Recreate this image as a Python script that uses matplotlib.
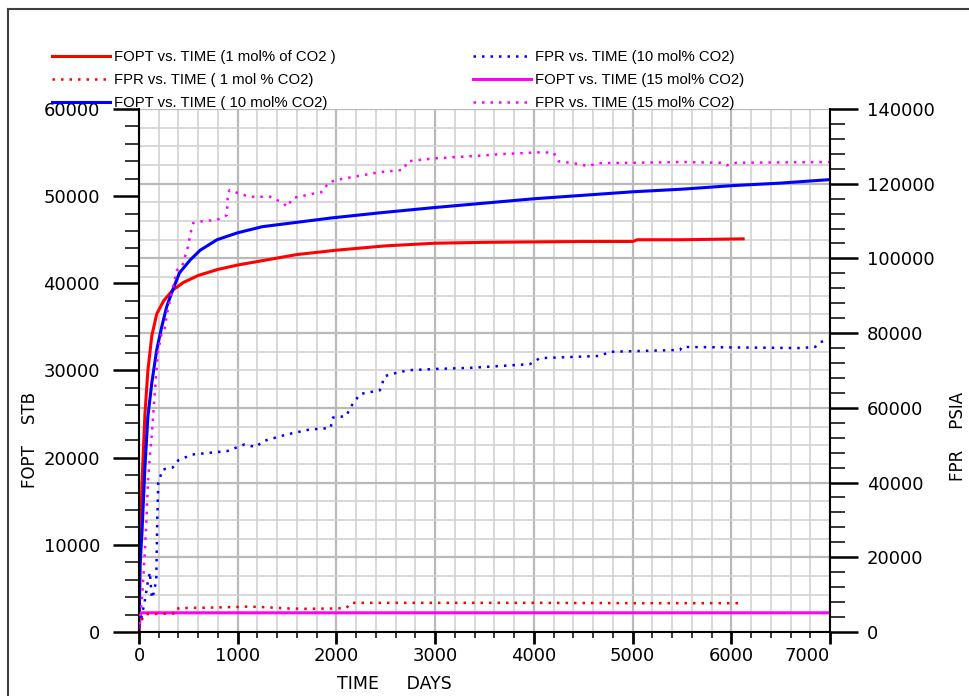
import matplotlib
matplotlib.use("Agg")
import matplotlib.pyplot as plt
from matplotlib.lines import Line2D
from matplotlib.ticker import MultipleLocator

# ---- data (TIME in days) ----

# FOPT (STB), left axis
t_fopt_1 = [0, 5, 10, 20, 30, 45, 60, 90, 130, 180, 250, 340, 450, 600, 800, 1000,
            1300, 1600, 2000, 2500, 3000, 3500, 4000, 4500, 5000, 5050, 5500, 6120]
fopt_1 = [0, 4000, 9000, 13500, 17000, 21000, 25000, 30000, 34000, 36500, 38000, 39200,
          40100, 40900, 41600, 42100, 42700, 43300, 43800, 44300, 44600, 44700, 44750,
          44800, 44800, 45000, 45000, 45100]

t_fopt_10 = [0, 10, 30, 60, 90, 130, 180, 230, 280, 340, 410, 520, 620, 790, 1000, 1250,
             1600, 1950, 2450, 3000, 3500, 4000, 4500, 5000, 5500, 6000, 6500, 7000]
fopt_10 = [0, 7500, 11400, 18900, 24700, 28600, 32400, 35000, 37300, 39200, 41200, 42700,
           43800, 45000, 45800, 46500, 47000, 47500, 48100, 48700, 49200, 49700, 50100,
           50500, 50800, 51200, 51500, 51900]

t_fopt_15 = [0, 15, 7000]
fopt_15 = [300, 2200, 2200]

# FPR (PSIA), right axis
t_fpr_1 = [0, 20, 40, 60, 100, 300, 380, 400, 700, 1000, 1100, 1300, 1500, 1700, 2000,
           2100, 2150, 3000, 4000, 5000, 6100]
fpr_1 = [1000, 2500, 4000, 4800, 4800, 4900, 5000, 6400, 6500, 6700, 6800, 6600, 6300,
         6200, 6300, 6400, 7800, 7800, 7800, 7700, 7700]

t_fpr_10 = [0, 30, 60, 90, 110, 130, 150, 175, 185, 195, 240, 340, 400, 540, 690, 890,
            1070, 1180, 1260, 1500, 1730, 1940, 1965, 2100, 2140, 2240, 2440, 2490, 2640,
            2750, 3000, 3350, 3660, 3960, 4060, 4670, 4770, 5480, 5500, 6700, 6850, 6900,
            7000]
fpr_10 = [1500, 4500, 8500, 13500, 16000, 9000, 10500, 14000, 30000, 40000, 43500, 44000,
          46000, 47500, 47900, 48400, 50200, 49500, 51100, 52900, 54200, 54600, 57400,
          57800, 60100, 63700, 64700, 68500, 69600, 70100, 70400, 70700, 71200, 71700,
          73300, 73900, 75000, 75500, 76300, 76000, 76300, 77600, 78200]

t_fpr_15 = [0, 15, 30, 45, 60, 75, 90, 110, 130, 160, 190, 230, 260, 285, 315, 345, 385,
            435, 465, 495, 535, 550, 650, 790, 890, 900, 920, 1000, 1120, 1330, 1460,
            1500, 1560, 1800, 1860, 1915, 2000, 2270, 2440, 2600, 2680, 2720, 3000, 3450,
            3650, 4060, 4200, 4250, 4420, 4550, 4650, 5000, 5500, 5900, 5950, 6050, 6500,
            7000]
fpr_15 = [2000, 5000, 9000, 15000, 22000, 30000, 40000, 47000, 53000, 64000, 74700, 80000,
          81000, 85400, 88900, 92400, 96900, 97700, 100400, 103000, 108400, 109500,
          110000, 110300, 111600, 117500, 118300, 117500, 116500, 116500, 114800, 113800,
          116200, 117500, 117800, 120200, 121000, 122300, 123100, 123500, 123700, 126000,
          126800, 127500, 127900, 128400, 128300, 126000, 125400, 124700, 125500, 125600,
          125800, 125600, 124900, 125600, 125700, 125800]

x_ticks = [0, 1000, 2000, 3000, 4000, 5000, 6000, 7000]

RED = "#ff0000"
BLUE = "#0000ff"
MAGENTA = "#ff00ff"
DOT = (0, (1, 2.4))

fig = plt.figure(figsize=(9.7, 6.96), dpi=100)
ax = fig.add_axes([0.1433, 0.0920, 0.7124, 0.7514])
ax2 = ax.twinx()

# grid: every 200 days, and every 5000 psia of the right scale
for xv in range(0, 7001, 200):
    major = xv % 1000 == 0
    ax.axvline(xv, color="#b9b9b9" if major else "#d2d2d2", lw=1.6 if major else 1.2, zorder=0)
for pv in range(0, 140001, 5000):
    major = pv % 20000 == 0
    ax.axhline(pv * 60000 / 140000, color="#b9b9b9" if major else "#d2d2d2",
               lw=1.6 if major else 1.2, zorder=0)

l1, = ax.plot(t_fopt_1, fopt_1, color=RED, lw=2.2, label="FOPT vs. TIME (1 mol% of CO2 )")
l3, = ax.plot(t_fopt_10, fopt_10, color=BLUE, lw=2.2, label="FOPT vs. TIME ( 10 mol% CO2)")
l5, = ax.plot(t_fopt_15, fopt_15, color=MAGENTA, lw=2.2, label="FOPT vs. TIME (15 mol% CO2)")
l2, = ax2.plot(t_fpr_1, fpr_1, color=RED, lw=1.8, ls=DOT, label="FPR vs. TIME ( 1 mol % CO2)")
l4, = ax2.plot(t_fpr_10, fpr_10, color=BLUE, lw=1.8, ls=DOT, label="FPR vs. TIME (10 mol% CO2)")
l6, = ax2.plot(t_fpr_15, fpr_15, color=MAGENTA, lw=1.8, ls=DOT, label="FPR vs. TIME (15 mol% CO2)")

ax.set_xlim(0, 7000)
ax.set_ylim(0, 60000)
ax2.set_ylim(0, 140000)

ax.set_xticks(x_ticks)
ax.xaxis.set_minor_locator(MultipleLocator(200))
ax.yaxis.set_major_locator(MultipleLocator(10000))
ax.yaxis.set_minor_locator(MultipleLocator(2000))
ax2.yaxis.set_major_locator(MultipleLocator(20000))
ax2.yaxis.set_minor_locator(MultipleLocator(4000))

ax.tick_params(axis="y", which="major", length=18.7, width=1.8, pad=9.4, labelsize=13)
ax.tick_params(axis="y", which="minor", length=10, width=1.1)
ax2.tick_params(axis="y", which="major", length=20, width=1.8, pad=6.5, labelsize=13)
ax2.tick_params(axis="y", which="minor", length=11, width=1.1)
ax.tick_params(axis="x", which="major", length=8.6, width=2.0, pad=2, labelsize=13)
ax.tick_params(axis="x", which="minor", length=4.3, width=1.1)

ax.get_xticklabels()[-1].set_horizontalalignment("right")

for a in (ax, ax2):
    a.spines["top"].set_visible(False)
ax.spines["right"].set_visible(False)
ax2.spines["left"].set_visible(False)
ax2.spines["bottom"].set_visible(False)
ax.spines["left"].set_linewidth(1.5)
ax.spines["bottom"].set_linewidth(1.5)
ax2.spines["right"].set_linewidth(1.5)

ax.set_ylabel("FOPT    STB", fontsize=12)
ax.yaxis.set_label_coords(-0.144, 0.367)
ax2.set_ylabel("FPR    PSIA", fontsize=12, rotation=90)
ax2.yaxis.set_label_coords(1.172, 0.373)
ax.set_xlabel("TIME     DAYS", fontsize=12.5)
ax.xaxis.set_label_coords(0.370, -0.082)

fig.legend(handles=[l1, l2, l3, l4, l5, l6], ncol=2, loc="upper left",
           bbox_to_anchor=(52 / 970, 1 - 50 / 696), frameon=False,
           prop={"family": "Liberation Sans", "size": 10.7}, handlelength=3.9,
           handletextpad=0.3, columnspacing=9.2, labelspacing=0.62,
           borderpad=0, borderaxespad=0)

# outer frame of the original screenshot
fig.add_artist(Line2D([8 / 970, 8 / 970], [0, 1 - 9 / 696], color="#404040", lw=1.5))
fig.add_artist(Line2D([8 / 970, 1], [1 - 9 / 696, 1 - 9 / 696], color="#404040", lw=1.5))

fig.savefig("out.png", dpi=100)
